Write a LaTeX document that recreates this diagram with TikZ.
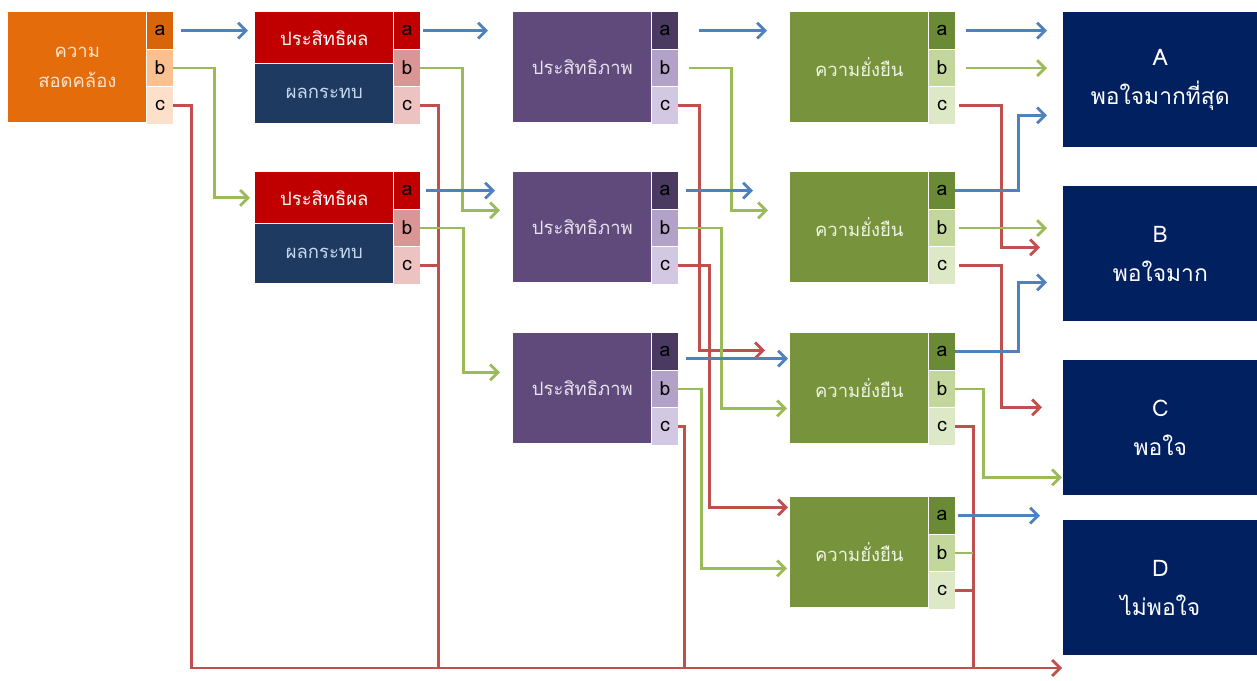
\documentclass[tikz,border=0pt]{standalone}
\usepackage{fontspec}
\setmainfont{Loma}[Script=Thai]
\usetikzlibrary{arrows.meta,positioning,calc}
\definecolor{cOrange}{HTML}{E46C0A}
\definecolor{cOrangeA}{HTML}{D9650A}
\definecolor{cOrangeB}{HTML}{FAC090}
\definecolor{cOrangeC}{HTML}{FDE0CA}
\definecolor{cOrangeT}{HTML}{FDE3CF}
\definecolor{cRed}{HTML}{C00000}
\definecolor{cRedB}{HTML}{DA9694}
\definecolor{cRedC}{HTML}{EDC3C2}
\definecolor{cNavy}{HTML}{1F3A60}
\definecolor{cNavyT}{HTML}{C6D9F1}
\definecolor{cPurple}{HTML}{604A7B}
\definecolor{cPurpleA}{HTML}{4A3A62}
\definecolor{cPurpleB}{HTML}{B3A2C7}
\definecolor{cPurpleC}{HTML}{D2C8E2}
\definecolor{cPurpleT}{HTML}{E8E2F0}
\definecolor{cGreen}{HTML}{77933C}
\definecolor{cGreenA}{HTML}{6B8A35}
\definecolor{cGreenB}{HTML}{C3D69B}
\definecolor{cGreenC}{HTML}{DDE9C6}
\definecolor{cGreenT}{HTML}{EEF4E2}
\definecolor{cDeep}{HTML}{002060}
\definecolor{lnBlue}{HTML}{4F81BD}
\definecolor{lnGreen}{HTML}{9BBB59}
\definecolor{lnRed}{HTML}{C0504D}

\begin{document}
\begin{tikzpicture}[x=0.02cm, y=-0.02cm,
  every node/.style={font=\fontsize{10.5}{17}\selectfont},
  mainbox/.style={rectangle, inner sep=0pt, anchor=north west, minimum width=2.76cm, minimum height=2.2cm, align=center},
  cellbox/.style={rectangle, inner sep=0pt, anchor=north west, minimum width=0.52cm, minimum height=0.7333cm, text=black, font=\fontsize{11}{12}\selectfont},
  resbox/.style={rectangle, fill=cDeep, text=white, inner sep=0pt, anchor=north west, minimum width=3.88cm, minimum height=2.7cm, align=center, font=\fontsize{13}{22}\selectfont},
  link/.style={line width=1.6pt, -{Straight Barb[length=4.5pt,width=9pt]}},
  bluearr/.style={link, lnBlue},
  greenarr/.style={link, lnGreen},
  redarr/.style={link, lnRed},
  redline/.style={line width=1.6pt, lnRed},
  greenline/.style={line width=1.6pt, lnGreen}]
  \useasboundingbox (0,0) rectangle (1257,680);

  % boxes
  \node[mainbox, fill=cOrange, text=cOrangeT] (ko) at (8,12) {ความ\\สอดคล้อง};
  \node[mainbox, fill=cRed, text=white, minimum height=1.02cm] (e1) at (255,12) {ประสิทธิผล};
  \node[mainbox, fill=cNavy, text=cNavyT, minimum height=1.18cm, below=0pt of e1] (e1n) {ผลกระทบ};
  \node[mainbox, fill=cRed, text=white, minimum height=1.02cm] (e2) at (255,172) {ประสิทธิผล};
  \node[mainbox, fill=cNavy, text=cNavyT, minimum height=1.18cm, below=0pt of e2] (e2n) {ผลกระทบ};
  \foreach \b/\y in {p1/12,p2/172,p3/333}
    \node[mainbox, fill=cPurple, text=cPurpleT] (\b) at (513,\y) {ประสิทธิภาพ};
  \foreach \b/\y in {s1/12,s2/172,s3/333,s4/497}
    \node[mainbox, fill=cGreen, text=cGreenT] (\b) at (790,\y) {ความยั่งยืน};
  \foreach \b/\ca/\cb/\cc in {ko/cOrangeA/cOrangeB/cOrangeC, e1/cRed/cRedB/cRedC, e2/cRed/cRedB/cRedC,
      p1/cPurpleA/cPurpleB/cPurpleC, p2/cPurpleA/cPurpleB/cPurpleC, p3/cPurpleA/cPurpleB/cPurpleC,
      s1/cGreenA/cGreenB/cGreenC, s2/cGreenA/cGreenB/cGreenC, s3/cGreenA/cGreenB/cGreenC, s4/cGreenA/cGreenB/cGreenC} {
    \node[cellbox, fill=\ca] (\b-a) at (\b.north east) {a};
    \node[cellbox, fill=\cb, below=0pt of \b-a] (\b-b) {b};
    \node[cellbox, fill=\cc, below=0pt of \b-b] (\b-c) {c};
  }
  \node[resbox] (rA) at (1063,12) {A\\พอใจมากที่สุด};
  \node[resbox] (rB) at (1063,186) {B\\พอใจมาก};
  \node[resbox] (rC) at (1063,360) {C\\พอใจ};
  \node[resbox] (rD) at (1063,520) {D\\ไม่พอใจ};
  \coordinate (sink) at (1062,668);

  % first column
  \draw[bluearr] ($(ko-a.east)+(8,0)$) -- ($(e1.west |- ko-a)+(-7,0)$);
  \draw[greenarr] (ko-b.east) -- ++(41,0) |- ($(e2.west)+(-5,0)$);
  \draw[redarr] (ko-c.east) -- ++(18,0) |- (sink);

  % second column
  \draw[bluearr] ($(e1-a.east)+(3,0)$) -- ($(p1.west |- e1-a)+(-25,0)$);
  \draw[greenarr] (e1-b.east) -- ++(42,0) |- ($(p2.west)+(-13,-17)$);
  \draw[redline] (e1-c.east) -- ++(18,0) coordinate (e1-j) -- (e1-j |- sink);
  \draw[bluearr] ($(e2-a.east)+(6,0)$) -- ($(p2.west |- e2-a)+(-18,0)$);
  \draw[greenarr] (e2-b.east) -- ++(43,0) |- ($(p3.west)+(-13,-16)$);
  \draw[redline] (e2-c.east) -- ++(18,0);

  % third column
  \draw[bluearr] ($(p1-a.east)+(21,0)$) -- ($(s1.west |- p1-a)+(-23,0)$);
  \draw[greenarr] ($(p1-b.east)+(11,0)$) -- ++(42,0) |- ($(s2.west)+(-22,-17)$);
  \draw[redarr] (p1-c.east) -- ++(21,0) |- ($(s3.west)+(-25,-38)$);
  \draw[bluearr] ($(p2-a.east)+(8,0)$) -- ($(s2.west |- p2-a)+(-37,0)$);
  \draw[greenarr] (p2-b.east) -- ++(43,0) |- ($(s3.west)+(-3,20)$);
  \draw[redarr] (p2-c.east) -- ++(31,0) |- ($(s4.west)+(-2,-45)$);
  \draw[bluearr] ($(p3-a.east)+(8,7)$) -- ($(s3.west |- p3-a)+(-2,7)$);
  \draw[greenarr] (p3-b.east) -- ++(23,0) |- ($(s4.west)+(-3,16)$);
  \draw[redline] (p3-c.east) -- ++(6,0) coordinate (p3-j) -- (p3-j |- sink);

  % fourth column
  \draw[bluearr] ($(s1-a.east)+(11,0)$) -- ($(rA.west |- s1-a)+(-16,0)$);
  \draw[greenarr] ($(s1-b.east)+(11,0)$) -- ($(rA.west |- s1-b)+(-16,0)$);
  \draw[redarr] ($(s1-c.east)+(4,0)$) -- ++(42,0) |- ($(rB.west)+(-23,-6.5)$);
  \draw[bluearr] (s2-a.east) -- ++(63,0) |- ($(rA.west)+(-16,35.5)$);
  \draw[greenarr] ($(s2-b.east)+(4,0)$) -- ($(rB.west |- s2-b)+(-16,0)$);
  \draw[redarr] ($(s2-c.east)+(4,0)$) -- ++(42,0) |- ($(rC.west)+(-21,-20.5)$);
  \draw[bluearr] (s3-a.east) -- ++(63,0) |- ($(rB.west)+(-16,28.5)$);
  \draw[greenarr] (s3-b.east) -- ++(28,0) |- ($(rC.west)+(-1,49.5)$);
  \draw[redline] (s3-c.east) -- ++(18,0) coordinate (s3-j) -- (s3-j |- sink);
  \draw[bluearr] ($(s4-a.east)+(3,0)$) -- ($(rD.west |- s4-a)+(-23,0)$);
  \draw[greenline] (s4-b.east) -- ++(18,0);
  \draw[redline] (s4-c.east) -- ++(18,0);
\end{tikzpicture}
\end{document}
